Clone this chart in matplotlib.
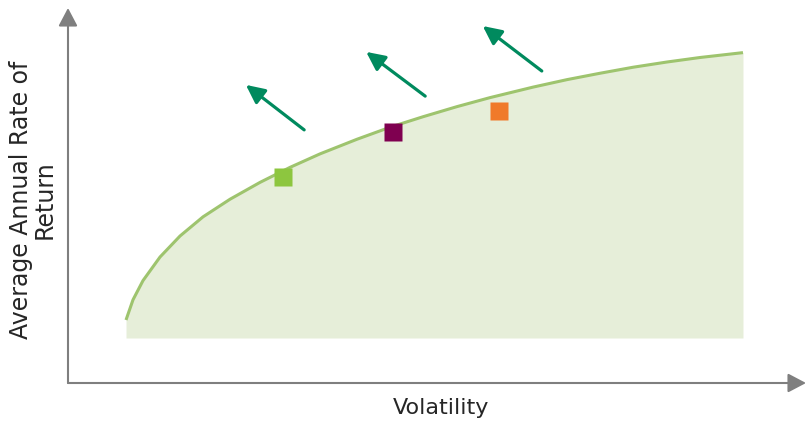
import matplotlib
matplotlib.use('Agg')
import numpy as np
import matplotlib.pyplot as plt
from matplotlib.patches import FancyArrowPatch

# frontier curve (volatility, return) in arbitrary 0-100 units
frontier_x = [7.86, 8.81, 10.16, 12.47, 15.18, 18.29, 21.95, 26.02, 30.08,
              34.15, 39.16, 43.63, 48.10, 52.71, 57.18, 63.01, 67.62, 72.09,
              76.56, 81.17, 85.64, 91.46]
frontier_y = [16.8, 22.2, 27.3, 33.6, 39.2, 44.3, 49.0, 53.5, 57.5,
              61.1, 65.0, 68.2, 71.0, 73.7, 76.1, 78.9, 80.9, 82.6,
              84.2, 85.6, 86.8, 88.1]
fill_floor = 12.0

# portfolios sitting on / near the frontier
port_x = [29.1, 44.0, 58.4]
port_y = [54.9, 66.9, 72.5]
port_colors = ['#8dc63f', '#7f0050', '#f07a2a']

# arrows pointing up-left (lower risk, higher return)
arrow_tail_x = [32.0, 48.4, 64.2]
arrow_tail_y = [67.5, 76.5, 83.2]
arrow_tip_x = [24.1, 40.4, 56.2]
arrow_tip_y = [79.5, 88.3, 95.2]

x_label = 'Volatility'
y_label = 'Average Annual Rate of\nReturn'

W, H = 808, 423
fig = plt.figure(figsize=(W / 100.0, H / 100.0), dpi=100)
ax = fig.add_axes([68.0 / W, 40.0 / H, (806.0 - 68.0) / W, (383.0 - 8.0) / H])
ax.set_xlim(0, 100)
ax.set_ylim(0, 100)
ax.axis('off')

# shaded region under the frontier
ax.fill_between(frontier_x, fill_floor, frontier_y, color='#e6eed9', lw=0, zorder=1)
ax.plot(frontier_x, frontier_y, color='#9ec46e', lw=2.2, zorder=2,
        solid_capstyle='butt', solid_joinstyle='round')

# portfolio markers
for x, y, c in zip(port_x, port_y, port_colors):
    ax.plot(x, y, marker='s', ms=13.5, color=c, mec='none', zorder=3)

# direction arrows
for x0, y0, x1, y1 in zip(arrow_tail_x, arrow_tail_y, arrow_tip_x, arrow_tip_y):
    ax.add_patch(FancyArrowPatch((x0, y0), (x1, y1),
                                 arrowstyle='-|>,head_length=0.56,head_width=0.27',
                                 mutation_scale=20, color='#008a5e', lw=2.3,
                                 shrinkA=0, shrinkB=0, zorder=4))

# axis lines with arrow heads
for end in [(0, 1), (1, 0)]:
    ax.add_patch(FancyArrowPatch((0, 0), end, transform=ax.transAxes,
                                 arrowstyle='-|>,head_length=0.55,head_width=0.29',
                                 mutation_scale=20, color='#7f7f7f', lw=1.5,
                                 shrinkA=0, shrinkB=0, clip_on=False, zorder=5))

fig.text(441.0 / W, 1 - 408.0 / H, x_label, ha='center', va='center',
         fontsize=16, color='#262626')
fig.text(33.0 / W, 1 - 200.0 / H, y_label, ha='center', va='center',
         rotation=90, multialignment='center', fontsize=17, color='#262626',
         linespacing=0.95)

fig.savefig('out.png', dpi=100)
